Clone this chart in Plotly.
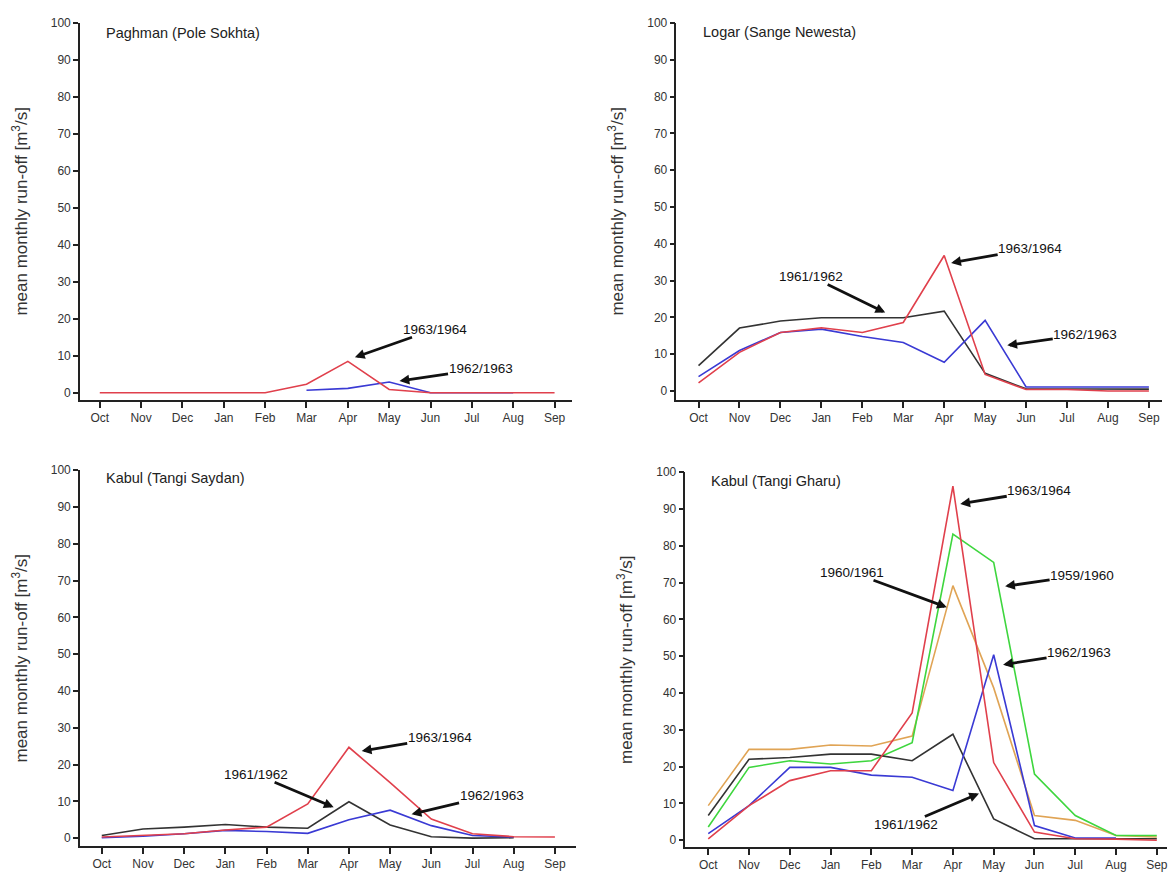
import plotly.graph_objects as go

W, H = 1171, 876

months = ["Oct", "Nov", "Dec", "Jan", "Feb", "Mar", "Apr", "May", "Jun", "Jul", "Aug", "Sep"]
y_ticks = [0, 10, 20, 30, 40, 50, 60, 70, 80, 90, 100]

# Paghman (Pole Sokhta)
pag_6364 = [0, 0, 0, 0, 0, 2.3, 8.5, 0.9, 0, 0, 0, 0]
pag_6263 = [None, None, None, None, None, 0.7, 1.2, 2.9, 0, 0, 0, None]

# Logar (Sange Newesta)
log_6162 = [6.9, 17.1, 19.0, 19.9, 19.9, 19.9, 21.7, 4.8, 0.6, 0.6, 0.4, 0.5]
log_6364 = [2.2, 10.5, 15.9, 17.2, 15.9, 18.6, 36.8, 4.5, 0.4, 0.4, 0.0, 0.0]
log_6263 = [3.9, 11.0, 15.9, 16.8, 14.8, 13.2, 7.8, 19.2, 1.1, 1.1, 1.1, 1.1]

# Kabul (Tangi Saydan)
tsa_6162 = [0.7, 2.5, 3.0, 3.7, 3.0, 2.7, 9.9, 3.6, 0.4, 0.0, 0.1, None]
tsa_6364 = [0.3, 0.7, 1.2, 2.2, 3.0, 9.3, 24.7, 15.1, 5.2, 1.2, 0.4, 0.3]
tsa_6263 = [0.1, 0.5, 1.2, 2.1, 1.8, 1.3, 5.0, 7.6, 3.4, 0.7, 0.3, None]

# Kabul (Tangi Gharu)
tgh_6364 = [0.4, 9.4, 16.2, 18.9, 18.9, 34.6, 96.2, 21.1, 2.2, 0.4, 0.3, 0.0]
tgh_5960 = [3.6, 19.8, 21.6, 20.7, 21.6, 26.5, 83.2, 75.5, 18.0, 6.7, 1.3, 1.3]
tgh_6061 = [9.4, 24.7, 24.7, 25.9, 25.6, 28.3, 69.2, 41.4, 6.7, 5.4, 1.3, 0.9]
tgh_6263 = [1.8, 9.4, 19.8, 19.8, 17.7, 17.1, 13.5, 50.4, 4.0, 0.6, 0.6, None]
tgh_6162 = [6.7, 22.0, 22.5, 23.4, 23.4, 21.6, 28.8, 5.8, 0.4, 0.4, 0.4, 0.4]

RED, BLUE, BLACK, GREEN, ORANGE = "#e0404c", "#3a3ad4", "#333333", "#3ed63e", "#e0a455"
FONT = "Arial, Liberation Sans, sans-serif"

xs = list(range(len(months)))

# panel geometry in pixels: (x_left, x_right, y_top, y_bottom, xrange, yrange)
panels = [
    (80, 572, 16, 396, [-0.48, 11.41], [-1.9, 100]),
    (677, 1163, 16, 396, [-0.54, 11.32], [-2.4, 100]),
    (80, 576, 467, 846, [-0.53, 11.5], [-2.2, 100]),
    (686, 1168, 469, 847, [-0.56, 11.25], [-1.9, 100]),
]

fig = go.Figure()

series = [
    (1, [(pag_6263, BLUE, "1962/1963"), (pag_6364, RED, "1963/1964")]),
    (2, [(log_6162, BLACK, "1961/1962"), (log_6263, BLUE, "1962/1963"), (log_6364, RED, "1963/1964")]),
    (3, [(tsa_6162, BLACK, "1961/1962"), (tsa_6263, BLUE, "1962/1963"), (tsa_6364, RED, "1963/1964")]),
    (4, [(tgh_6061, ORANGE, "1960/1961"), (tgh_5960, GREEN, "1959/1960"), (tgh_6162, BLACK, "1961/1962"),
         (tgh_6263, BLUE, "1962/1963"), (tgh_6364, RED, "1963/1964")]),
]

for idx, lst in series:
    sfx = "" if idx == 1 else str(idx)
    for vals, col, name in lst:
        fig.add_trace(go.Scatter(x=xs, y=vals, mode="lines", name=name,
                                 line=dict(color=col, width=1.6),
                                 xaxis="x" + sfx, yaxis="y" + sfx, showlegend=False))

layout = dict(width=W, height=H, margin=dict(l=0, r=0, t=0, b=0),
              paper_bgcolor="white", plot_bgcolor="white",
              font=dict(family=FONT, size=12, color="#333333"))

for i, (xl, xr, yt, yb, xrg, yrg) in enumerate(panels, start=1):
    sfx = "" if i == 1 else str(i)
    layout["xaxis" + sfx] = dict(
        domain=[xl / W, xr / W], range=xrg, anchor="y" + sfx,
        tickmode="array", tickvals=xs, ticktext=months,
        showline=True, linecolor="#222222", linewidth=1.5,
        ticks="outside", ticklen=6, tickwidth=1.5, tickcolor="#222222",
        showgrid=False, zeroline=False, fixedrange=True,
        tickfont=dict(size=12, color="#333333"))
    layout["yaxis" + sfx] = dict(
        domain=[1 - yb / H, 1 - yt / H], range=yrg, anchor="x" + sfx,
        tickmode="array", tickvals=y_ticks,
        showline=True, linecolor="#222222", linewidth=1.5,
        ticks="outside", ticklen=5, tickwidth=1.5, tickcolor="#222222",
        showgrid=False, zeroline=False, fixedrange=True,
        tickfont=dict(size=12, color="#333333"),
        title=dict(text="mean monthly run-off [m<sup>3</sup>/s]",
                   font=dict(size=17, color="#333333"), standoff=19))

fig.update_layout(**layout)

titles = [
    ("Paghman (Pole Sokhta)", 104, 26),
    ("Logar (Sange Newesta)", 702, 25),
    ("Kabul (Tangi Saydan)", 104, 475),
    ("Kabul (Tangi Gharu)", 710, 478),
]
for txt, px, py in titles:
    fig.add_annotation(text=txt, x=px / W, y=1 - py / H, xref="paper", yref="paper",
                       xanchor="left", yanchor="middle", showarrow=False,
                       font=dict(size=14.5, color="#222222"))

# arrow labels: panel, text, tip x (month index), tip y (value), ax, ay (pixel offsets to label)
labels = [
    (1, "1963/1964", 6.17, 9.6, 80, -28),
    (1, "1962/1963", 7.25, 3.2, 81, -12),
    (2, "1963/1964", 6.17, 34.8, 79, -14),
    (2, "1961/1962", 4.56, 21.3, -74, -36),
    (2, "1962/1963", 7.54, 12.4, 78, -11),
    (3, "1963/1964", 6.31, 23.7, 78, -13),
    (3, "1961/1962", 5.63, 8.4, -78, -33),
    (3, "1962/1963", 7.52, 6.5, 80, -19),
    (4, "1963/1964", 6.18, 91.4, 79, -13),
    (4, "1960/1961", 5.85, 63.3, -95, -35),
    (4, "1959/1960", 7.28, 69.0, 77, -11),
    (4, "1962/1963", 7.23, 47.7, 76, -12),
    (4, "1961/1962", 6.64, 12.7, -73, 31),
]
for p, txt, tx, ty, ax, ay in labels:
    sfx = "" if p == 1 else str(p)
    fig.add_annotation(text=txt, x=tx, y=ty, xref="x" + sfx, yref="y" + sfx,
                       ax=ax, ay=ay, showarrow=True, arrowhead=2, arrowsize=0.7,
                       arrowwidth=2.8, arrowcolor="#111111", borderpad=0,
                       font=dict(size=13.5, color="#111111"))

fig.write_html("out.html")
